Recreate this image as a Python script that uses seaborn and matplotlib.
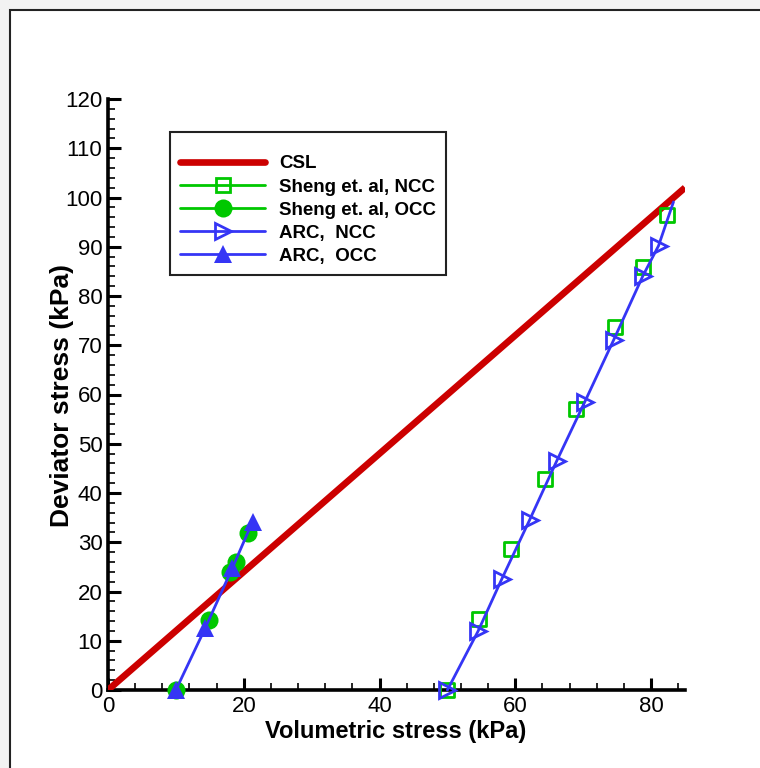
import matplotlib
matplotlib.use("Agg")
import matplotlib.pyplot as plt
from matplotlib.lines import Line2D
from matplotlib.patches import Rectangle
import seaborn as sns
import numpy as np

# ---- data ----
csl_x = [0, 85]
csl_y = [0, 102]

sheng_ncc_x = [50.0, 54.7, 59.4, 64.4, 69.0, 74.7, 78.8, 82.4]
sheng_ncc_y = [0.0, 14.4, 28.6, 42.8, 57.1, 73.7, 85.8, 96.5]

sheng_occ_x = [10.0, 14.9, 18.0, 18.8, 20.6]
sheng_occ_y = [0.0, 14.2, 24.0, 26.0, 31.8]

arc_ncc_x = [50.0, 54.5, 58.0, 62.1, 66.1, 70.2, 74.5, 78.8, 81.1, 83.3]
arc_ncc_y = [0.0, 11.9, 22.5, 34.5, 46.5, 58.4, 71.1, 84.1, 90.2, 99.1]

arc_occ_x = [10.0, 14.3, 18.3, 21.3]
arc_occ_y = [0.0, 12.5, 24.7, 34.2]

x_ticks = [0, 20, 40, 60, 80]
y_ticks = list(range(0, 121, 10))

labels = ["CSL", "Sheng et. al, NCC", "Sheng et. al, OCC", "ARC,  NCC", "ARC,  OCC"]

RED = "#cc0000"
GREEN = "#00c800"
BLUE = "#3535f5"

sns.set_style("white")
plt.rcParams["font.family"] = ["Liberation Sans", "DejaVu Sans"]
plt.rcParams["text.color"] = "black"
plt.rcParams["axes.labelcolor"] = "black"
plt.rcParams["xtick.color"] = "black"
plt.rcParams["ytick.color"] = "black"

fig = plt.figure(figsize=(7.6, 7.68), dpi=100)
fig.patch.set_facecolor("#f2f2f2")
frame = Rectangle((10 / 760, -0.01), 1.0, 1 - 10 / 768 + 0.01,
                  transform=fig.transFigure, facecolor="white",
                  edgecolor="#222222", linewidth=1.5, zorder=-10)
fig.patches.append(frame)

ax = fig.add_axes([108 / 760, 1 - 690 / 768, (685 - 108) / 760, (690 - 99) / 768])
ax.set_zorder(5)
ax.set_facecolor("none")

sns.lineplot(x=csl_x, y=csl_y, ax=ax, color=RED, linewidth=4.8, sort=False,
             estimator=None, solid_capstyle="butt", zorder=2)

sns.scatterplot(x=sheng_ncc_x, y=sheng_ncc_y, ax=ax, marker="s", s=10 ** 2,
                facecolors="none", edgecolor=GREEN, linewidth=2, zorder=3,
                clip_on=False)
sns.scatterplot(x=sheng_occ_x, y=sheng_occ_y, ax=ax, marker="o", s=13 ** 2,
                color=GREEN, edgecolor=GREEN, linewidth=0, zorder=3,
                clip_on=False)

sns.lineplot(x=arc_ncc_x, y=arc_ncc_y, ax=ax, color=BLUE, linewidth=2, sort=False,
             estimator=None, marker=">", markersize=12, markerfacecolor="none",
             markeredgecolor=BLUE, markeredgewidth=2,
             markevery=list(range(len(arc_ncc_x) - 1)), zorder=4, clip_on=False)
sns.lineplot(x=arc_occ_x, y=arc_occ_y, ax=ax, color=BLUE, linewidth=2, sort=False,
             estimator=None, marker="^", markersize=13, markerfacecolor=BLUE,
             markeredgecolor=BLUE, markeredgewidth=0, zorder=4, clip_on=False)

ax.set_xlim(0, 85)
ax.set_ylim(0, 120)
ax.set_xticks(x_ticks)
ax.set_yticks(y_ticks)
ax.set_xticks(np.arange(0, 86, 4), minor=True)
ax.set_yticks(np.arange(0, 121, 2), minor=True)
ax.tick_params(which="major", direction="in", length=9, width=2.2, labelsize=16,
               pad=4, colors="black")
ax.tick_params(which="minor", direction="in", length=5, width=1.2)
ax.tick_params(axis="x", which="both", bottom=True, top=False)
ax.tick_params(axis="y", which="both", left=True, right=False)
for sp in ["top", "right"]:
    ax.spines[sp].set_visible(False)
for sp in ["left", "bottom"]:
    ax.spines[sp].set_linewidth(2.6)
    ax.spines[sp].set_color("black")
    ax.spines[sp].set_zorder(1)

ax.set_xlabel("Volumetric stress (kPa)", fontsize=17, fontweight="bold", va="top")
ax.xaxis.set_label_coords(0.499, -0.050)
ax.set_ylabel("Deviator stress (kPa)", fontsize=19, fontweight="bold", va="center")
ax.yaxis.set_label_coords(-0.080, 0.499)

handles = [
    Line2D([], [], color=RED, linewidth=4.8),
    Line2D([], [], color=GREEN, linewidth=2, marker="s", markersize=10,
           markerfacecolor="none", markeredgecolor=GREEN, markeredgewidth=2),
    Line2D([], [], color=GREEN, linewidth=2, marker="o", markersize=13,
           markerfacecolor=GREEN, markeredgewidth=0),
    Line2D([], [], color=BLUE, linewidth=2, marker=">", markersize=12,
           markerfacecolor="none", markeredgecolor=BLUE, markeredgewidth=2),
    Line2D([], [], color=BLUE, linewidth=2, marker="^", markersize=13,
           markerfacecolor=BLUE, markeredgewidth=0),
]
leg = fig.legend(handles, labels, loc="upper left",
                 bbox_to_anchor=(170 / 760, 1 - 132 / 768),
                 bbox_transform=fig.transFigure, borderaxespad=0,
                 prop={"size": 13.5, "weight": "bold"},
                 title=" ", title_fontsize=6,
                 handlelength=4.5, handletextpad=0.75, labelspacing=0.32,
                 borderpad=0.55, fancybox=False, frameon=True, framealpha=1)
leg.get_frame().set_edgecolor("#222222")
leg.get_frame().set_linewidth(1.5)
leg.set_zorder(10)
for t in leg.get_texts():
    t.set_color("black")

fig.savefig("out.png", dpi=100, facecolor=fig.get_facecolor())
